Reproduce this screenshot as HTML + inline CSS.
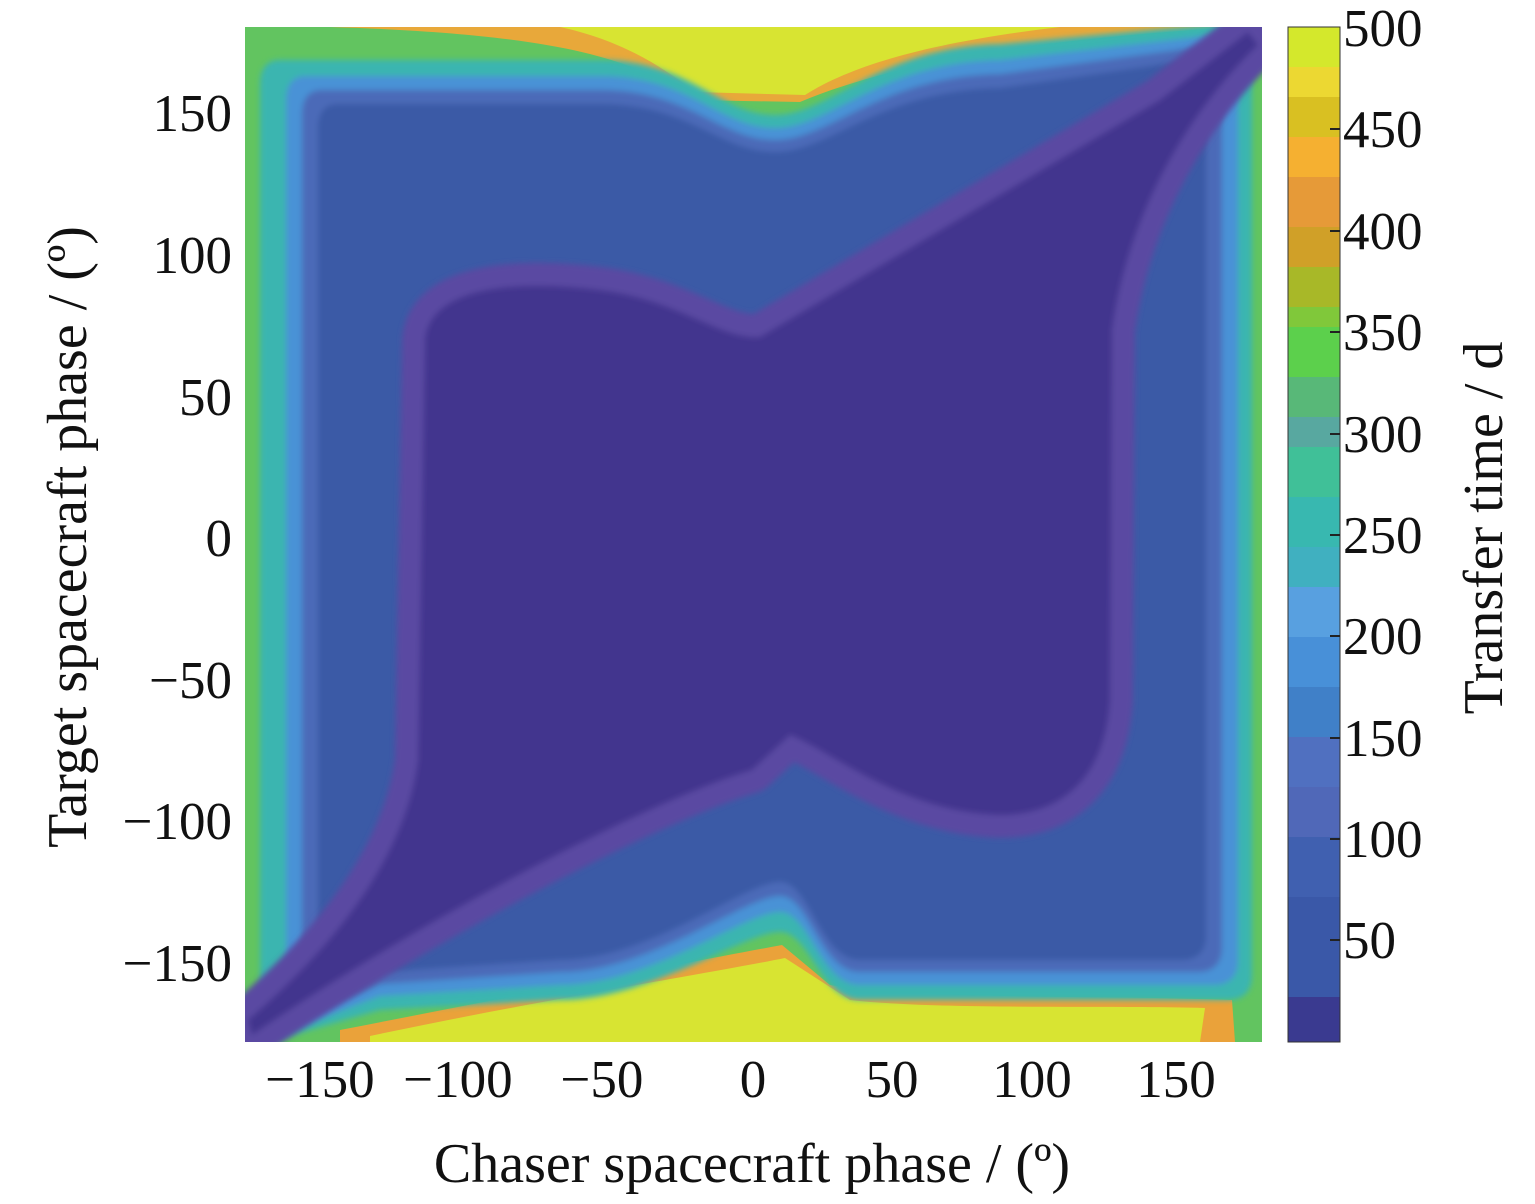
<!DOCTYPE html>
<html><head><meta charset="utf-8"><style>
body{margin:0;background:#fff;}
svg text{font-family:"Liberation Serif",serif;fill:#111;}
</style></head><body>
<svg width="1535" height="1199" viewBox="0 0 1535 1199" xmlns="http://www.w3.org/2000/svg">
<defs>
<clipPath id="c"><rect x="245" y="27" width="1017" height="1015"/></clipPath>
<filter id="b" x="-5%" y="-5%" width="110%" height="110%"><feGaussianBlur stdDeviation="3"/></filter>
</defs>
<g clip-path="url(#c)">
<rect x="240" y="20" width="1030" height="1030" fill="#62c460"/>
<path d="M330,27 L1240,27 C1050,38 900,60 800,102 L690,100 C640,60 560,34 330,27 Z" fill="#e8a83a"/>
<path d="M560,27 L1060,27 C950,40 860,60 805,95 L695,92 C660,65 620,40 560,27 Z" fill="#d8e432"/>
<path d="M340,1042 L1235,1042 L1232,1000 C1100,995 920,1000 830,985 L782,945 C700,960 520,995 340,1030 Z" fill="#eaa23a"/>
<path d="M370,1042 L1200,1042 L1205,1008 C1100,1005 940,1010 850,1000 L785,958 C700,975 540,1000 370,1036 Z" fill="#d8e432"/>
<g filter="url(#b)">
<path d="M280,60 L600,60 C690,60 720,115 775,115 C830,115 880,46 1000,44 L1237,22 Q1252,22 1252,37 L1252,975 Q1252,1000 1227,1000 L860,1000 C820,1000 810,932 780,932 C745,932 650,1000 560,1000 L380,1010 L275,1040 Q260,1040 260,1025 L260,85 Q260,60 280,60 Z" fill="#3ab5b0"/>
<path d="M306,76 L600,76 C690,76 720,128 775,128 C830,128 880,62 1000,60 L1223,34 Q1238,34 1238,49 L1238,960 Q1238,985 1213,985 L860,985 C820,985 810,912 780,912 C745,912 650,985 560,985 L380,996 L301,1026 Q286,1026 286,1011 L286,101 Q286,76 306,76 Z" fill="#4a92d6"/>
<path d="M322,90 L600,90 C690,90 720,140 775,140 C830,140 880,76 1000,74 L1207,46 Q1222,46 1222,61 L1222,947 Q1222,972 1197,972 L860,972 C820,972 810,896 780,896 C745,896 650,972 560,972 L380,984 L317,1012 Q302,1012 302,997 L302,115 Q302,90 322,90 Z" fill="#4c6bb8"/>
<path d="M338,104 L600,104 C690,104 720,152 775,152 C830,152 880,90 1000,88 L1191,60 Q1206,60 1206,75 L1206,935 Q1206,960 1181,960 L860,960 C820,960 810,882 780,882 C745,882 650,960 560,960 L380,972 L333,998 Q318,998 318,983 L318,129 Q318,104 338,104 Z" fill="#3b5aa6"/>
</g>
<path d="M425,340 C430,285 520,280 600,290 C680,300 720,340 760,337 L1160,100 L1248,32 L1258,45 C1200,100 1130,200 1112,330 L1110,700 C1105,780 1060,815 1000,815 C900,812 830,750 790,735 L752,770 C650,800 420,920 252,1035 L248,1020 C330,950 405,860 418,760 Z" fill="#43368e" stroke="#5a4aa2" stroke-width="46" stroke-linejoin="round" paint-order="stroke" filter="url(#b)"/>
</g>
<g>
<rect x="1288" y="27" width="52" height="1015" fill="#3a3a90"/>
<rect x="1288" y="27" width="52" height="40" fill="#d4e82c"/>
<rect x="1288" y="67" width="52" height="30" fill="#ecd832"/>
<rect x="1288" y="97" width="52" height="40" fill="#d9c022"/>
<rect x="1288" y="137" width="52" height="40" fill="#f5b031"/>
<rect x="1288" y="177" width="52" height="50" fill="#e69a38"/>
<rect x="1288" y="227" width="52" height="40" fill="#d0a028"/>
<rect x="1288" y="267" width="52" height="40" fill="#a8b828"/>
<rect x="1288" y="307" width="52" height="20" fill="#80c83a"/>
<rect x="1288" y="327" width="52" height="50" fill="#5cd04c"/>
<rect x="1288" y="377" width="52" height="40" fill="#58b878"/>
<rect x="1288" y="417" width="52" height="30" fill="#58a8a0"/>
<rect x="1288" y="447" width="52" height="50" fill="#40c098"/>
<rect x="1288" y="497" width="52" height="50" fill="#38b8b0"/>
<rect x="1288" y="547" width="52" height="40" fill="#40b0c0"/>
<rect x="1288" y="587" width="52" height="50" fill="#58a0e0"/>
<rect x="1288" y="637" width="52" height="50" fill="#4890d8"/>
<rect x="1288" y="687" width="52" height="50" fill="#4080c8"/>
<rect x="1288" y="737" width="52" height="50" fill="#5070c0"/>
<rect x="1288" y="787" width="52" height="50" fill="#5068b8"/>
<rect x="1288" y="837" width="52" height="60" fill="#4060b0"/>
<rect x="1288" y="897" width="52" height="100" fill="#3a58a8"/>
<rect x="1288" y="27" width="52" height="1015" fill="none" stroke="#333" stroke-width="1"/>
<g stroke="#222" stroke-width="2">
<line x1="1330" y1="129" x2="1340" y2="129"/><line x1="1330" y1="231" x2="1340" y2="231"/>
<line x1="1330" y1="332" x2="1340" y2="332"/><line x1="1330" y1="434" x2="1340" y2="434"/>
<line x1="1330" y1="535" x2="1340" y2="535"/><line x1="1330" y1="636" x2="1340" y2="636"/>
<line x1="1330" y1="738" x2="1340" y2="738"/><line x1="1330" y1="839" x2="1340" y2="839"/>
<line x1="1330" y1="940" x2="1340" y2="940"/>
</g>
</g>
<g font-size="53">
<g text-anchor="start">
<text x="1343" y="46">500</text><text x="1343" y="147">450</text><text x="1343" y="249">400</text>
<text x="1343" y="350">350</text><text x="1343" y="452">300</text><text x="1343" y="553">250</text>
<text x="1343" y="654">200</text><text x="1343" y="756">150</text><text x="1343" y="857">100</text>
<text x="1343" y="958">50</text>
</g>
<g text-anchor="end">
<text x="232" y="131">150</text><text x="232" y="273">100</text><text x="232" y="415">50</text>
<text x="232" y="556">0</text><text x="232" y="698">−50</text><text x="232" y="839">−100</text>
<text x="232" y="981">−150</text>
</g>
<g text-anchor="middle">
<text x="320" y="1097">−150</text><text x="458" y="1097">−100</text><text x="602" y="1097">−50</text>
<text x="753" y="1097">0</text><text x="892" y="1097">50</text><text x="1032" y="1097">100</text>
<text x="1176" y="1097">150</text>
</g>
</g>
<text x="752" y="1182" font-size="56" text-anchor="middle">Chaser spacecraft phase / (º)</text>
<text transform="translate(86,537) rotate(-90)" font-size="56" text-anchor="middle">Target spacecraft phase / (º)</text>
<text transform="translate(1502,528) rotate(-90)" font-size="56" text-anchor="middle">Transfer time / d</text>
</svg>
</body></html>
